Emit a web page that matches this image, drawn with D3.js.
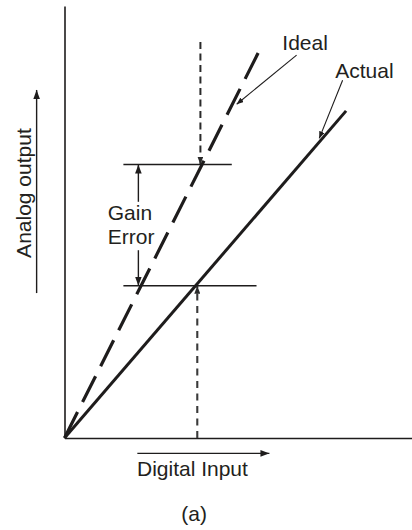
<!DOCTYPE html>
<html><head><meta charset="utf-8">
<script src="https://cdn.jsdelivr.net/npm/d3@7"></script>
<style>
body{margin:0;background:#fff}
svg{display:block}
text{font-family:"Liberation Sans",Arial,Helvetica,sans-serif;fill:#231f20}
</style>
</head><body><svg id="c" width="412" height="530"></svg>
<script>
// ---- data (chart units) ----
const xDomain = [0, 10];
const yDomain = [0, 12.4];
const idealLine = [[0, 0], [5.57, 11.08]];
const actualLine = [[0, 0], [8.08, 9.39]];
const codeIdeal = 3.9;       // dashed arrow down onto ideal line
const codeActual = 3.81;     // dashed arrow up onto actual line
const dashedTop = 11.37;
const levels = [7.85, 4.37]; // ideal level, actual level
const levelLineStart = 1.69;
const levelLineEnd = [4.80, 5.51];
const gainErrorX = 2.12;
const gainGap = [6.78, 5.39];
const labelTexts = ["Ideal", "Actual"];
const labelPos = [[6.25, 11.13], [7.77, 10.32]];
const leaderFrom = [[6.66, 10.99], [7.98, 10.27]];
const leaderTo = [[4.94, 9.58], [7.31, 8.60]];
const gainText = ["Gain", "Error"];
const gainTextX = 1.24;
const gainTextY = [6.26, 5.57];
const xTitle = "Digital Input", yTitle = "Analog output", caption = "(a)";

const svg = d3.select("#c");
const x = d3.scaleLinear().domain(xDomain).range([64.5, 413]);
const y = d3.scaleLinear().domain(yDomain).range([438, 6]);
const ink = "#1e1c1c";
const fs = 21;

const defs = svg.append("defs");
function marker(id, len, half, color){
  defs.append("marker").attr("id", id).attr("markerUnits","userSpaceOnUse")
    .attr("viewBox", `0 0 ${len} ${half*2}`).attr("markerWidth", len).attr("markerHeight", half*2)
    .attr("refX", len).attr("refY", half).attr("orient","auto")
    .append("path").attr("d", `M0,0L${len},${half}L0,${half*2}Z`).attr("fill", color);
}
marker("arr", 9, 3.3, ink);
marker("arrS", 8, 3, "#2a2a2a");
marker("arrL", 7, 2.8, ink);

// axes (no ticks)
svg.append("g").attr("transform", `translate(0,${y(0)})`)
  .call(d3.axisBottom(x).tickValues([]).tickSizeOuter(0))
  .select(".domain").attr("stroke", ink).attr("stroke-width", 1.6);
svg.append("g").attr("transform", `translate(${x(0)},0)`)
  .call(d3.axisLeft(y).tickValues([]).tickSizeOuter(0))
  .select(".domain").attr("stroke", ink).attr("stroke-width", 1.6);

const line = d3.line().x(d => x(d[0])).y(d => y(d[1]));

// level lines
levels.forEach((lv, i) => {
  svg.append("path").attr("d", line([[levelLineStart, lv], [levelLineEnd[i], lv]]))
    .attr("stroke", ink).attr("stroke-width", 1.4).attr("fill", "none");
});

// dashed vertical arrows
svg.append("path").attr("d", line([[codeIdeal, dashedTop], [codeIdeal, levels[0]]]))
  .attr("stroke", "#2a2a2a").attr("stroke-width", 2).attr("stroke-dasharray", "7,4.5")
  .attr("fill", "none").attr("marker-end", "url(#arrS)");
svg.append("path").attr("d", line([[codeActual, 0], [codeActual, levels[1]]]))
  .attr("stroke", "#3a3a3a").attr("stroke-width", 2.1).attr("stroke-dasharray", "7,5.5")
  .attr("fill", "none").attr("marker-end", "url(#arrS)");

// ideal and actual lines
svg.append("path").attr("d", line(idealLine)).attr("stroke", ink).attr("stroke-width", 3.2)
  .attr("stroke-dasharray", "29,11.2").attr("fill", "none");
svg.append("path").attr("d", line(actualLine)).attr("stroke", ink).attr("stroke-width", 3)
  .attr("fill", "none");

// gain error double arrow
svg.append("path").attr("d", line([[gainErrorX, gainGap[0]], [gainErrorX, levels[0]]]))
  .attr("stroke", ink).attr("stroke-width", 1.4).attr("marker-end", "url(#arr)");
svg.append("path").attr("d", line([[gainErrorX, gainGap[1]], [gainErrorX, levels[1]]]))
  .attr("stroke", ink).attr("stroke-width", 1.4).attr("marker-end", "url(#arr)");
gainText.forEach((t, i) => svg.append("text").attr("x", x(gainTextX)).attr("y", y(gainTextY[i]))
  .attr("font-size", fs).text(t));

// line labels with leaders
labelTexts.forEach((t, i) => {
  svg.append("text").attr("x", x(labelPos[i][0])).attr("y", y(labelPos[i][1])).attr("font-size", fs).text(t);
  svg.append("path").attr("d", line([leaderFrom[i], leaderTo[i]]))
    .attr("stroke", ink).attr("stroke-width", 1.1).attr("marker-end", "url(#arrL)");
});

// axis direction arrows
svg.append("path").attr("d", line([[-0.80, 4.16], [-0.80, 9.99]]))
  .attr("stroke", ink).attr("stroke-width", 1.4).attr("marker-end", "url(#arr)");
svg.append("path").attr("d", line([[2.09, -0.44], [5.88, -0.44]]))
  .attr("stroke", ink).attr("stroke-width", 1.4).attr("marker-end", "url(#arr)");

// titles
svg.append("text").attr("x", x(2.08)).attr("y", y(-1.09)).attr("font-size", fs).text(xTitle);
svg.append("text").attr("transform", `translate(${x(-0.97)},${y(7.03)}) rotate(-90)`)
  .attr("text-anchor", "middle").attr("font-size", fs).text(yTitle);
svg.append("text").attr("x", x(3.72)).attr("y", y(-2.38)).attr("text-anchor", "middle")
  .attr("font-size", fs).text(caption);
</script>
</body></html>
